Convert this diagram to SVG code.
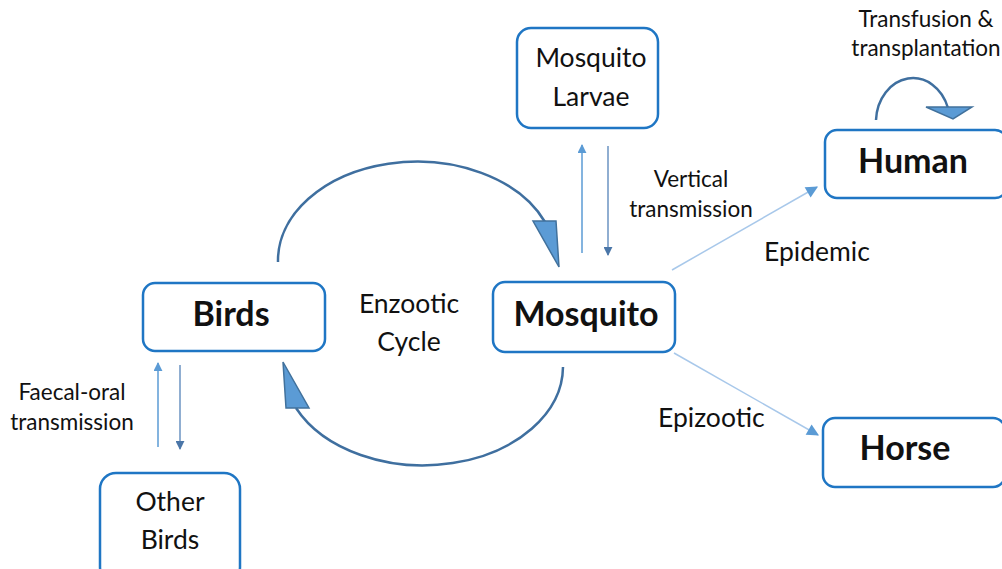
<svg xmlns="http://www.w3.org/2000/svg" width="1002" height="569" viewBox="0 0 1002 569">
<style>
.box{fill:#fff;stroke:#1f76c4;stroke-width:2.5}
.t{font-family:Lato,"Open Sans",sans-serif;fill:#111}
.b{font-weight:bold;font-size:34px}
.m{font-size:26.5px}
.s{font-size:22.5px}
.arc{fill:none;stroke:#3f6f9f;stroke-width:2.5}
.head{fill:#5b9bd5;stroke:#41719c;stroke-width:1.5;stroke-linejoin:miter}
.v1{stroke:#5b9bd5;stroke-width:1.5;fill:none}
.v2{stroke:#6b93c2;stroke-width:1.5;fill:none}
.lt{stroke:#a8c8ea;stroke-width:1.5;fill:none}
</style>
<defs>
<marker id="ah1" viewBox="0 0 10 10" refX="9" refY="5" markerWidth="9" markerHeight="9" markerUnits="userSpaceOnUse" orient="auto"><path d="M0,0 L10,5 L0,10 z" fill="#5b9bd5"/></marker>
<marker id="ah2" viewBox="0 0 10 10" refX="9" refY="5" markerWidth="9" markerHeight="9" markerUnits="userSpaceOnUse" orient="auto"><path d="M0,0 L10,5 L0,10 z" fill="#4a76a8"/></marker>
<marker id="ah3" viewBox="0 0 10 10" refX="9" refY="5" markerWidth="14" markerHeight="12" markerUnits="userSpaceOnUse" orient="auto"><path d="M0,0 L10,5 L0,10 z" fill="#5b9bd5"/></marker>
</defs>
<g id="connectors">
<path class="arc" d="M278,262 A139,99 0 0 1 545,222"/>
<polygon class="head" points="533,221 556,221 559,267"/>
<path class="arc" d="M563,367 A140,99 0 0 1 296,408"/>
<polygon class="head" points="283,362 286,408 309,408"/>
<path class="arc" d="M876,120 A37,44 0 0 1 948,108"/>
<polygon class="head" points="926,107 972,107 953,119"/>
<line class="v1" x1="582" y1="253" x2="582" y2="145" marker-end="url(#ah1)"/>
<line class="v2" x1="608" y1="146" x2="608" y2="255" marker-end="url(#ah2)"/>
<line class="v1" x1="158" y1="447" x2="158" y2="363" marker-end="url(#ah1)"/>
<line class="v2" x1="180" y1="365" x2="180" y2="449" marker-end="url(#ah2)"/>
<line class="lt" x1="672" y1="270" x2="817" y2="187" marker-end="url(#ah3)"/>
<line class="lt" x1="674" y1="353" x2="818" y2="435" marker-end="url(#ah3)"/>
</g>
<g id="node-larvae">
<rect class="box" x="517" y="28" width="141" height="100" rx="14"/>
<text class="t m" x="591" y="67" text-anchor="middle">Mosquito</text>
<text class="t m" x="591" y="106" text-anchor="middle">Larvae</text>
</g>
<g id="node-birds">
<rect class="box" x="143" y="283" width="182" height="68" rx="12"/>
<text class="t b" x="231" y="326" text-anchor="middle">Birds</text>
</g>
<g id="node-mosquito">
<rect class="box" x="493" y="282" width="182" height="70" rx="12"/>
<text class="t b" x="586" y="326" text-anchor="middle">Mosquito</text>
</g>
<g id="node-human">
<rect class="box" x="825" y="130" width="182" height="68" rx="12"/>
<text class="t b" x="913" y="173" text-anchor="middle">Human</text>
</g>
<g id="node-horse">
<rect class="box" x="823" y="418" width="182" height="69" rx="12"/>
<text class="t b" x="905" y="460" text-anchor="middle">Horse</text>
</g>
<g id="node-otherbirds">
<rect class="box" x="100" y="473" width="140" height="110" rx="16"/>
<text class="t m" x="170" y="511" text-anchor="middle">Other</text>
<text class="t m" x="170" y="549" text-anchor="middle">Birds</text>
</g>
<g id="labels">
<text class="t m" x="409" y="313" text-anchor="middle">Enzootic</text>
<text class="t m" x="409" y="351" text-anchor="middle">Cycle</text>
<text class="t s" x="691" y="187" text-anchor="middle">Vertical</text>
<text class="t s" x="691" y="217" text-anchor="middle">transmission</text>
<text class="t m" x="764" y="261">Epidemic</text>
<text class="t m" x="658" y="427">Epizootic</text>
<text class="t s" x="72" y="400" text-anchor="middle">Faecal-oral</text>
<text class="t s" x="72" y="430" text-anchor="middle">transmission</text>
<text class="t s" x="926" y="27" text-anchor="middle">Transfusion &amp;</text>
<text class="t s" x="926" y="56" text-anchor="middle">transplantation</text>
</g>
</svg>
